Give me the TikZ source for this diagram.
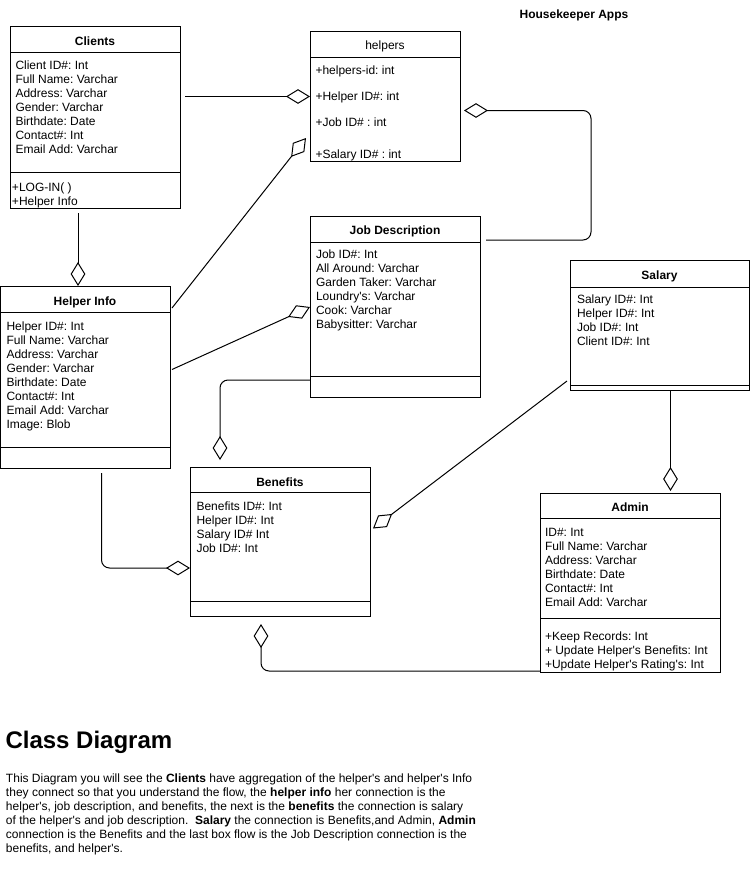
\documentclass[tikz,border=0pt]{standalone}
\usepackage{fontspec}
\setmainfont{Liberation Sans}
\usetikzlibrary{positioning, calc, arrows.meta}
\frenchspacing
\newcommand{\ap}{\textquotesingle}
\newcommand{\classrule}[2]{\draw ([yshift=-#2*0.75pt]#1.north west) -- ([yshift=-#2*0.75pt]#1.north east);}

\begin{document}
\begin{tikzpicture}[x=0.75pt, y=0.75pt, line width=0.75pt,
    classbox/.style={draw, anchor=north west, inner sep=0pt},
    title/.style={anchor=base, inner sep=0pt, font=\fontsize{9pt}{10.5pt}\selectfont\bfseries},
    attr/.style={anchor=base west, inner sep=0pt, font=\fontsize{9pt}{10.5pt}\selectfont},
    agg/.style={-{Diamond[open, length=18pt, width=11pt]}, rounded corners=6pt}]
    \useasboundingbox (0,0) rectangle (751,-872);

    \node[title] (AppT) at (574,-18) {Housekeeper Apps};

    % Clients
    \node[classbox, minimum width=127.5pt, minimum height=136.5pt] (Clients) at (10,-26) {};
    \classrule{Clients}{26}
    \classrule{Clients}{146}
    \node[title] (ClientsT) at (95,-45) {Clients};
    \foreach \a [count=\i] in {Client ID\#: Int, Full Name: Varchar, Address: Varchar, Gender: Varchar, Birthdate: Date, Contact\#: Int, Email Add: Varchar}
        \node[attr] (ClientsA\i) at (15,{-69.6-14*(\i-1)}) {\a};
    \foreach \a [count=\i] in {+LOG-IN( ), +Helper Info}
        \node[attr] (ClientsM\i) at (11.5,{-191.3-14*(\i-1)}) {\a};

    % helpers
    \node[classbox, minimum width=112.5pt, minimum height=97.5pt] (helpers) at (310,-31) {};
    \classrule{helpers}{26}
    \node[title, font=\fontsize{9pt}{10.5pt}\selectfont] (helpersT) at (385,-49) {helpers};
    \foreach \y/\a [count=\i] in {74.3/+helpers-id: int, 100.6/+Helper ID\#: int, 126.3/+Job ID\# : int, 158/+Salary ID\# : int}
        \node[attr] (helpersA\i) at (315,-\y) {\a};

    % Job Description
    \node[classbox, minimum width=127.5pt, minimum height=135.75pt] (JD) at (310,-216) {};
    \classrule{JD}{26}
    \classrule{JD}{160}
    \node[title] (JDT) at (395,-234) {Job Description};
    \foreach \a [count=\i] in {Job ID\#: Int, All Around: Varchar, Garden Taker: Varchar, Loundry\ap s: Varchar, Cook: Varchar, Babysitter: Varchar}
        \node[attr] (JDA\i) at (315.5,{-258.6-14*(\i-1)}) {\a};

    % Helper Info
    \node[classbox, minimum width=127.5pt, minimum height=136.5pt] (HelperInfo) at (0,-286) {};
    \classrule{HelperInfo}{26}
    \classrule{HelperInfo}{161}
    \node[title] (HelperInfoT) at (85,-305) {Helper Info};
    \foreach \a [count=\i] in {Helper ID\#: Int, Full Name: Varchar, Address: Varchar, Gender: Varchar, Birthdate: Date, Contact\#: Int, Email Add: Varchar, Image: Blob}
        \node[attr] (HelperInfoA\i) at (6,{-330.3-14*(\i-1)}) {\a};

    % Salary
    \node[classbox, minimum width=134.25pt, minimum height=97.5pt] (Salary) at (570,-260) {};
    \classrule{Salary}{27}
    \classrule{Salary}{125}
    \node[title] (SalaryT) at (659.5,-279.5) {Salary};
    \foreach \a [count=\i] in {Salary ID\#: Int, Helper ID\#: Int, Job ID\#: Int, Client ID\#: Int}
        \node[attr] (SalaryA\i) at (576.5,{-303.6-14*(\i-1)}) {\a};

    % Benefits
    \node[classbox, minimum width=135pt, minimum height=111.75pt] (Benefits) at (190,-467) {};
    \classrule{Benefits}{25}
    \classrule{Benefits}{134}
    \node[title] (BenefitsT) at (280,-486) {Benefits};
    \foreach \a [count=\i] in {Benefits ID\#: Int, Helper ID\#: Int, Salary ID\# Int, Job ID\#: Int}
        \node[attr] (BenefitsA\i) at (196,{-510.3-14*(\i-1)}) {\a};

    % Admin
    \node[classbox, minimum width=135pt, minimum height=134.25pt] (Admin) at (540,-493) {};
    \classrule{Admin}{25}
    \classrule{Admin}{125}
    \node[title] (AdminT) at (630,-511) {Admin};
    \foreach \a [count=\i] in {ID\#: Int, Full Name: Varchar, Address: Varchar, Birthdate: Date, Contact\#: Int, Email Add: Varchar}
        \node[attr] (AdminA\i) at (544.5,{-536.3-14*(\i-1)}) {\a};
    \foreach \a [count=\i] in {+Keep Records: Int, + Update Helper\ap s Benefits: Int, +Update Helper\ap s Rating\ap s: Int}
        \node[attr] (AdminM\i) at (544.5,{-640.3-14*(\i-1)}) {\a};

    % aggregations
    \coordinate (ClientsOut) at ([xshift=51pt]Clients.south west);
    \coordinate (SalaryOut) at ([xshift=7.875pt]Salary.south);
    \draw[agg, shorten <=3pt] (Clients.east |- helpers.west) -- (helpers.west);
    \draw[agg, shorten <=3pt] (ClientsOut) -- (ClientsOut |- HelperInfo.north);
    \draw[agg] ([shift={(1,-22)}]HelperInfo.north east) -- ([shift={(-4,24)}]helpers.south west);
    \draw[agg] ([shift={(1,8)}]HelperInfo.east) -- (JD.west);
    \draw[agg] ([shift={(5,-24)}]JD.north east) -- ++(105,0) |- ([shift={(3,-14)}]helpers.east);
    \draw[agg] ([shift={(0,18)}]JD.south west) -| ([shift={(30,7)}]Benefits.north west);
    \draw[agg] ([shift={(16,-4)}]HelperInfo.south) |- ([shift={(0,-26)}]Benefits.west);
    \draw[agg] ([shift={(-3,10)}]Salary.south west) -- ([shift={(2,13.5)}]Benefits.east);
    \draw[agg, shorten >=1.5pt] (SalaryOut) -- (SalaryOut |- Admin.north);
    \draw[agg] ([shift={(0,2)}]Admin.south west) -| ([shift={(-19.5,-7)}]Benefits.south);

    % notes
    \node[anchor=base west, inner sep=0pt, font=\fontsize{18pt}{21pt}\selectfont\bfseries] (ClassT) at (5,-748.3) {Class Diagram};
    \foreach \ln [count=\i] in {{This Diagram you will see the \textbf{Clients} have aggregation of the helper\ap s and helper\ap s Info},
        {they connect so that you understand the flow, the \textbf{helper info} her connection is the},
        {helper\ap s, job description, and benefits, the next is the \textbf{benefits} the connection is salary},
        {of the helper\ap s and job description.~ \textbf{Salary} the connection is Benefits,and Admin, \textbf{Admin}},
        {connection is the Benefits and the last box flow is the Job Description connection is the},
        {benefits, and helper\ap s.}}
        \node[attr] (NoteL\i) at (5.5,{-782.3-14*(\i-1)}) {\ln};
\end{tikzpicture}
\end{document}
